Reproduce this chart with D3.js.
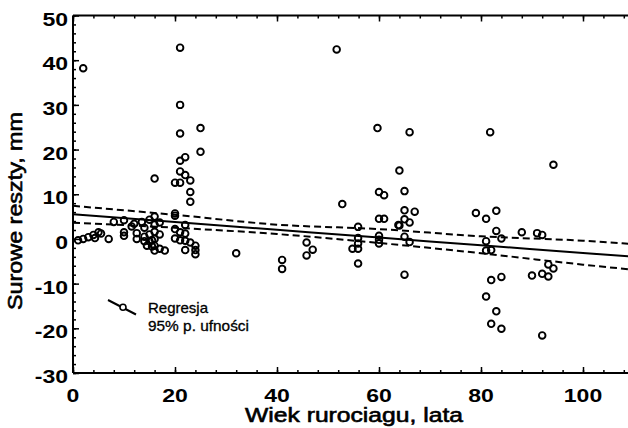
<!DOCTYPE html>
<html>
<head>
<meta charset="utf-8">
<script src="https://cdn.jsdelivr.net/npm/d3@7"></script>
<style>
  html, body { margin: 0; padding: 0; background: #fff; }
  svg { display: block; }
  text { font-family: "Liberation Sans", Arial, sans-serif; fill: #000; }
</style>
</head>
<body>
<svg id="chart" width="628" height="428"></svg>
<script>
// ---- data ----
const ages = [
  1, 2, 3, 4, 4.3, 5, 5.5, 7, 8, 10, 10, 10, 11.5, 12, 12.5, 12.5,
  13.5, 14, 14, 14, 14.5, 15, 15, 15, 15.5, 15.5, 16, 16, 16, 16, 16, 16, 16, 17, 17, 17, 18,
  20, 20, 20, 20, 20, 21, 21, 21, 21, 22, 21, 22, 21, 23, 23, 23, 25, 25,
  21, 21, 22, 22, 22, 22, 23, 24, 24, 24, 2,
  32, 41, 41, 45.8, 47, 45.8, 51.7, 52.8, 55.9, 55.9, 55.9, 54.8, 55.9, 55.9,
  59.7, 60, 61, 60, 61, 60, 60, 60, 64, 65, 65, 67, 64, 65, 66, 65, 66, 65, 66, 63.8,
  79, 81, 83, 81.8, 83, 84, 81, 81, 82, 88, 91, 92, 93.2, 94.2, 90, 92, 93.2,
  82, 84, 81, 83, 82, 84, 92, 94.2
];
const residuals = [
  -0.3, 0, 0.4, 0.9, 0.2, 1.5, 1.2, 0, 3.8, 4.2, 1.5, 0.7, 2.8, 3.4, 1.3, 0,
  3.8, 2.5, 0.5, -0.5, -1.5, 4.3, 1, -0.5, -1.7, -0.3, 5, 3.2, 1.6, 0, -1.5, -2.6, 13.5, 3.7, 1, -2.2, -2.6,
  5.7, 5.2, 2.2, 0.1, 12.6, 42.8, 30, 23.6, 17.5, 18.3, 15.1, 14.3, 12.6, 13.1, 10.5, 8.3, 24.8, 19.5,
  1.5, -0.3, 3.1, 1.2, -0.4, -2.5, -0.8, -1.5, -2.5, -3.4, 38.2,
  -3.2, -4.7, -6.7, -0.8, -2.4, -3.7, 42.4, 7.8, 2.7, 0.2, -1, -2.2, -2.2, -5.5,
  24.8, 10.5, 9.8, 4.5, 4.5, 0.7, -0.2, -1.0, 15.3, 10.7, 6.4, 6.1, 3.0, 4.4, 3.7, 0.5, -0.7, -8, 23.9, 3.1,
  5.8, 4.5, 6.3, 23.9, 1.8, 0.1, -0.5, -2.6, -2.5, 1.5, 1.3, 0.9, -5.7, -6.6, -8.2, -7.8, -8.4,
  -9.2, -8.5, -12.9, -16.2, -19, -20.1, -21.6, 16.6
];
// regression line and 95% confidence limits, read at these ages
const lineAges = [0, 20, 40, 60, 80, 100, 110];
const regression = [5.5, 3.8, 2.05, 0.3, -1.4, -3.15, -4.0];
const upperLimit = [7.4, 5.4, 3.2, 2.2, 0.6, -0.4, -1.15];
const lowerLimit = [3.65, 2.5, 1.1, -0.9, -3.2, -5.75, -6.9];

const xTicks = [0, 20, 40, 60, 80, 100];
const yTicks = [-30, -20, -10, 0, 10, 20, 30, 40, 50];
const xMinor = d3.range(0, 112, 4);
const yMinor = d3.range(-30, 51, 2);

const xTitle = "Wiek rurociagu, lata";
const yTitle = "Surowe reszty, mm";
const legendLabels = ["Regresja", "95% p. ufności"];

(function draw() {
  const svg = d3.select("#chart");
  const L = 73, T = 15.5, B = 373, R = 634;
  const x = d3.scaleLinear().domain([0, 110]).range([L, R]);
  const y = d3.scaleLinear().domain([-30, 50]).range([B, T]);

  svg.append("defs").append("clipPath").attr("id", "plotclip")
    .append("rect").attr("x", L).attr("y", T).attr("width", R - L).attr("height", B - T);

  const plot = svg.append("g").attr("clip-path", "url(#plotclip)");

  const line = (vals) => d3.line()
    .x((d, i) => x(lineAges[i]))
    .y(d => y(d))
    .curve(d3.curveMonotoneX)(vals);

  plot.append("path").attr("d", line(upperLimit))
    .attr("fill", "none").attr("stroke", "#000").attr("stroke-width", 2).attr("stroke-dasharray", "7,4");
  plot.append("path").attr("d", line(lowerLimit))
    .attr("fill", "none").attr("stroke", "#000").attr("stroke-width", 2).attr("stroke-dasharray", "7,4");
  plot.append("path").attr("d", line(regression))
    .attr("fill", "none").attr("stroke", "#000").attr("stroke-width", 2);

  plot.selectAll("circle.pt").data(ages).enter().append("circle")
    .attr("class", "pt")
    .attr("cx", d => x(d))
    .attr("cy", (d, i) => y(residuals[i]))
    .attr("r", 3.3)
    .attr("fill", "none")
    .attr("stroke", "#000")
    .attr("stroke-width", 1.9);

  const frame = svg.append("g").attr("stroke", "#000").attr("fill", "none");
  frame.append("line").attr("x1", L).attr("x2", R).attr("y1", T).attr("y2", T).attr("stroke-width", 2);
  frame.append("line").attr("x1", L).attr("x2", R).attr("y1", B).attr("y2", B).attr("stroke-width", 2);
  frame.append("line").attr("x1", L).attr("x2", L).attr("y1", T).attr("y2", B).attr("stroke-width", 2);

  const tickStyle = g => { g.select(".domain").remove(); g.selectAll("line").attr("stroke", "#000").attr("stroke-width", 1.5); g.selectAll("text").remove(); };
  svg.append("g").attr("transform", `translate(0,${B})`)
    .call(d3.axisTop(x).tickValues(xMinor).tickSize(3).tickFormat("")).call(tickStyle);
  svg.append("g").attr("transform", `translate(0,${B})`)
    .call(d3.axisTop(x).tickValues(xTicks).tickSize(6).tickFormat("")).call(tickStyle);
  svg.append("g").attr("transform", `translate(0,${T})`)
    .call(d3.axisBottom(x).tickValues(xMinor).tickSize(3).tickFormat("")).call(tickStyle);
  svg.append("g").attr("transform", `translate(0,${T})`)
    .call(d3.axisBottom(x).tickValues(xTicks).tickSize(6).tickFormat("")).call(tickStyle);
  svg.append("g").attr("transform", `translate(${L},0)`)
    .call(d3.axisRight(y).tickValues(yMinor).tickSize(3).tickFormat("")).call(tickStyle);
  svg.append("g").attr("transform", `translate(${L},0)`)
    .call(d3.axisRight(y).tickValues(yTicks).tickSize(6).tickFormat("")).call(tickStyle);

  svg.append("g").selectAll("text").data(yTicks).enter().append("text")
    .attr("transform", d => `translate(68,${y(d) + 10}) scale(1.28,1)`)
    .attr("text-anchor", "end")
    .attr("font-size", 18).attr("font-weight", "bold")
    .text(d => d);
  svg.append("g").selectAll("text").data(xTicks).enter().append("text")
    .attr("transform", d => `translate(${x(d)},402) scale(1.28,1)`)
    .attr("text-anchor", "middle")
    .attr("font-size", 18).attr("font-weight", "bold")
    .text(d => d);

  svg.append("text")
    .attr("x", 354).attr("y", 422)
    .attr("text-anchor", "middle")
    .attr("font-size", 20)
    .attr("stroke", "#000").attr("stroke-width", 0.6)
    .attr("textLength", 218).attr("lengthAdjust", "spacingAndGlyphs")
    .text(xTitle);
  svg.append("text")
    .attr("transform", "translate(21.5,211) rotate(-90)")
    .attr("text-anchor", "middle")
    .attr("font-size", 20)
    .attr("stroke", "#000").attr("stroke-width", 0.6)
    .attr("textLength", 198).attr("lengthAdjust", "spacingAndGlyphs")
    .text(yTitle);

  const lg = svg.append("g");
  lg.append("line").attr("x1", 108).attr("y1", 300).attr("x2", 136).attr("y2", 314.5)
    .attr("stroke", "#000").attr("stroke-width", 2);
  lg.append("circle").attr("cx", 123).attr("cy", 307.3).attr("r", 3)
    .attr("fill", "#fff").attr("stroke", "#000").attr("stroke-width", 1.6);
  lg.selectAll("text").data(legendLabels).enter().append("text")
    .attr("x", 148).attr("y", (d, i) => 313 + i * 17.5)
    .attr("font-size", 14.5)
    .attr("stroke", "#000").attr("stroke-width", 0.3)
    .attr("textLength", (d, i) => i === 0 ? 60 : 101).attr("lengthAdjust", "spacingAndGlyphs")
    .text(d => d);
})();
</script>
</body>
</html>
